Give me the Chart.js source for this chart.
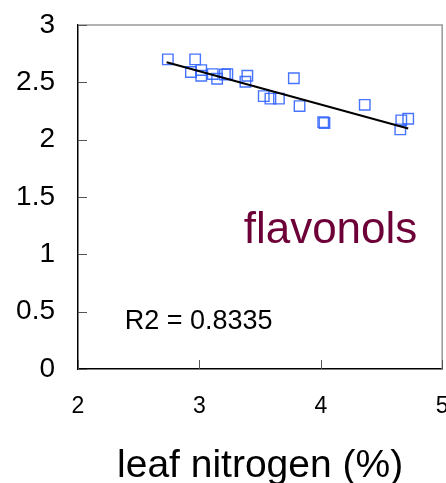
<!DOCTYPE html>
<html>
<head>
<meta charset="utf-8">
<script src="https://cdn.jsdelivr.net/npm/chart.js@4"></script>
<style>
  html, body { margin: 0; padding: 0; background: #fff; overflow: hidden; }
  #wrap { width: 446px; height: 483px; overflow: hidden; }
</style>
</head>
<body>
<!-- canvas a few px wider than the window so the "5" label is cut like the original -->
<div id="wrap"><canvas id="chart" width="451" height="483"></canvas></div>
<script>
// ── Data ─────────────────────────────
const nitrogen = [2.74, 2.965, 2.93, 3.015, 3.015, 3.11, 3.146, 3.21, 3.23, 3.395, 3.379,
                  3.53, 3.585, 3.655, 3.778, 3.825, 4.02, 4.03, 4.362, 4.655, 4.663, 4.72];
const flavonols = [2.70, 2.70, 2.59, 2.607, 2.557, 2.572, 2.531, 2.568, 2.572, 2.557, 2.505,
                   2.38, 2.358, 2.358, 2.536, 2.293, 2.153, 2.145, 2.304, 2.09, 2.168, 2.182];
const trendX = [2.73, 4.72];
const trendY = [2.675, 2.098];
const xTicks = [2, 3, 4, 5];
const yTicks = [0, 0.5, 1, 1.5, 2, 2.5, 3];

const FONT = "'Liberation Sans', Arial, sans-serif";

// inward tick marks, grey top/right frame, text labels
const framePlugin = {
  id: 'frame',
  afterDraw(chart) {
    const { ctx, chartArea: a, scales: { x, y } } = chart;
    ctx.save();
    ctx.strokeStyle = '#999';
    ctx.lineWidth = 1.5;
    ctx.beginPath();
    ctx.moveTo(a.left, a.top);
    ctx.lineTo(a.right, a.top);
    ctx.lineTo(a.right, a.bottom);
    ctx.stroke();

    ctx.strokeStyle = '#555';
    ctx.lineWidth = 1;
    ctx.beginPath();
    yTicks.forEach(v => {
      const py = Math.round(y.getPixelForValue(v)) + 0.5;
      ctx.moveTo(a.left, py);
      ctx.lineTo(a.left + 9, py);
    });
    xTicks.forEach(v => {
      const px = Math.round(x.getPixelForValue(v)) + 0.5;
      ctx.moveTo(px, a.bottom);
      ctx.lineTo(px, a.bottom - 9);
    });
    ctx.stroke();

    ctx.textBaseline = 'alphabetic';
    ctx.fillStyle = '#6e0038';
    ctx.font = '44px ' + FONT;
    ctx.textAlign = 'center';
    ctx.fillText('flavonols', x.getPixelForValue(4.08), y.getPixelForValue(1.1));

    ctx.fillStyle = '#000';
    ctx.font = '27px ' + FONT;
    ctx.textAlign = 'left';
    ctx.fillText('R2 = 0.8335', x.getPixelForValue(2.385), y.getPixelForValue(0.346));
    ctx.restore();
  }
};

new Chart(document.getElementById('chart'), {
  type: 'scatter',
  data: {
    datasets: [
      {
        label: 'trend',
        data: trendX.map((v, i) => ({ x: v, y: trendY[i] })),
        showLine: true,
        borderColor: '#000',
        borderWidth: 2,
        pointRadius: 0
      },
      {
        label: 'flavonols',
        data: nitrogen.map((v, i) => ({ x: v, y: flavonols[i] })),
        pointStyle: 'rect',
        pointRadius: 7.4,
        borderColor: 'rgba(50,100,255,0.9)',
        borderWidth: 1.4,
        backgroundColor: 'rgba(0,0,0,0)'
      }
    ]
  },
  options: {
    responsive: false,
    animation: false,
    layout: { padding: { top: 25, right: 0, left: 0, bottom: 0 } },
    plugins: { legend: { display: false }, tooltip: { enabled: false } },
    scales: {
      x: {
        type: 'linear',
        min: 2, max: 5,
        afterBuildTicks: s => { s.ticks = xTicks.map(v => ({ value: v })); },
        // tick padding otherwise leaks into the side margins
        afterFit: s => { s.height = 114; s.paddingLeft = 0; s.paddingRight = 0; },
        grid: { display: false, drawTicks: false },
        border: { color: '#000', width: 1.5 },
        ticks: { color: '#000', font: { family: FONT, size: 23 }, padding: 24, maxRotation: 0,
                 callback: v => String(v) },
        title: {
          display: true,
          text: 'leaf nitrogen (%)',
          color: '#000',
          font: { family: FONT, size: 39 },
          padding: { top: 0, bottom: -7 }
        }
      },
      y: {
        type: 'linear',
        min: 0, max: 3,
        afterBuildTicks: s => { s.ticks = yTicks.map(v => ({ value: v })); },
        // same for the top margin
        afterFit: s => { s.width = 78; s.paddingTop = 0; s.paddingBottom = 0; },
        grid: { display: false, drawTicks: false },
        border: { color: '#000', width: 1.5 },
        ticks: { color: '#000', font: { family: FONT, size: 28 }, padding: 23,
                 callback: v => String(v) }
      }
    }
  },
  plugins: [framePlugin]
});
</script>
</body>
</html>
